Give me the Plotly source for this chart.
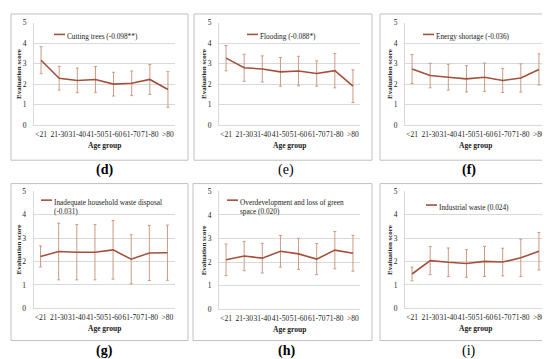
import plotly.graph_objects as go

W, H = 550, 359

age_groups = ["<21", "21-30", "31-40", "41-50", "51-60", "61-70", "71-80", ">80"]

names = [
    "Cutting trees (-0.098**)",
    "Flooding (-0.088*)",
    "Energy shortage (-0.036)",
    "Inadequate household waste disposal<br>(-0.031)",
    "Overdevelopment and loss of green<br>space (0.020)",
    "Industrial waste (0.024)",
]
panel_labels = ["(d)", "(e)", "(f)", "(g)", "(h)", "(i)"]

mean_d = [3.17, 2.29, 2.18, 2.23, 2.00, 2.04, 2.23, 1.74]
sd_d = [0.66, 0.58, 0.60, 0.63, 0.58, 0.60, 0.73, 0.87]
mean_e = [3.27, 2.80, 2.74, 2.60, 2.64, 2.52, 2.66, 1.90]
sd_e = [0.62, 0.66, 0.64, 0.70, 0.72, 0.62, 0.84, 0.80]
mean_f = [2.74, 2.42, 2.34, 2.26, 2.34, 2.18, 2.30, 2.72]
sd_f = [0.71, 0.60, 0.63, 0.64, 0.69, 0.59, 0.69, 0.76]
mean_g = [2.22, 2.43, 2.40, 2.40, 2.50, 2.10, 2.37, 2.38]
sd_g = [0.45, 1.21, 1.18, 1.18, 1.25, 1.05, 1.18, 1.18]
mean_h = [2.10, 2.26, 2.17, 2.46, 2.35, 2.13, 2.51, 2.38]
sd_h = [0.67, 0.62, 0.63, 0.67, 0.66, 0.66, 0.79, 0.76]
mean_i = [1.47, 2.04, 1.97, 1.92, 2.01, 1.98, 2.16, 2.44]
sd_i = [0.29, 0.60, 0.61, 0.59, 0.64, 0.59, 0.80, 0.80]

means = [mean_d, mean_e, mean_f, mean_g, mean_h, mean_i]
sds = [sd_d, sd_e, sd_f, sd_g, sd_h, sd_i]

# layout geometry in pixels (left, right, top, bottom) of plot areas
plots = [
    (26, 167, 11, 116),
    (211, 352, 11, 116),
    (397, 538, 11, 116),
    (25.5, 166.5, 184, 304),
    (211, 352, 184, 305),
    (397, 538, 184, 304),
]
boxes = [
    (3, 180, 2, 152),
    (186, 364, 2, 152),
    (372, 547, 2, 152),
    (3, 180, 176, 337),
    (185, 364, 176, 337),
    (372, 547, 176, 337),
]
label_pos = [(96, 162), (278, 162), (461, 162), (96, 348), (278, 348), (461, 348)]
legend_pos = [(46, 23), (239, 23), (415, 23), (33, 193), (219, 193), (418, 198)]

LINE = "#A4503A"
ERR = "#CC9A82"
GRID = "#D9D9D9"
SERIF = "Liberation Serif, Times New Roman, serif"

def px(x):
    return x / W

def py(y):
    return 1 - y / H

fig = go.Figure()
shapes = []
annotations = []

for k in range(6):
    xa = "x" if k == 0 else f"x{k+1}"
    ya = "y" if k == 0 else f"y{k+1}"
    l, r, t, b = plots[k]
    fig.add_trace(go.Scatter(
        x=age_groups, y=means[k], mode="lines",
        line=dict(color=LINE, width=1.6),
        error_y=dict(type="data", array=sds[k], visible=True,
                     color=ERR, thickness=1, width=1.5),
        xaxis=xa, yaxis=ya, showlegend=False, name=names[k].replace("<br>", " "),
    ))
    xkey = "xaxis" if k == 0 else f"xaxis{k+1}"
    ykey = "yaxis" if k == 0 else f"yaxis{k+1}"
    fig.layout[xkey] = dict(
        domain=[px(l), px(r)], anchor=ya, type="category",
        categoryorder="array", categoryarray=age_groups,
        showgrid=False, showline=True, linecolor=GRID, linewidth=1,
        ticks="", tickangle=0, ticklabelstandoff=2,
        tickfont=dict(family=SERIF, size=7.5, color="#222"),
        fixedrange=True,
    )
    fig.layout[ykey] = dict(
        domain=[py(b), py(t)], anchor=xa, range=[0, 5], dtick=1,
        showgrid=True, gridcolor=GRID, gridwidth=1, zeroline=False,
        showline=True, linecolor=GRID, linewidth=1,
        ticks="", ticklabelstandoff=5,
        tickfont=dict(family=SERIF, size=7.5, color="#222"),
        fixedrange=True,
    )
    # outer box
    bl, br, bt, bb = boxes[k]
    shapes.append(dict(type="rect", xref="paper", yref="paper",
                       x0=px(bl), x1=px(br), y0=py(bb), y1=py(bt),
                       line=dict(color="#C0C0C0", width=1)))
    # axis titles
    annotations.append(dict(xref="paper", yref="paper",
                            x=px(l - 15), y=py((t + b) / 2),
                            text="<b>Evaluation score</b>", textangle=-90,
                            showarrow=False,
                            font=dict(family=SERIF, size=7, color="#222"),
                            xanchor="center", yanchor="middle"))
    annotations.append(dict(xref="paper", yref="paper",
                            x=px((l + r) / 2), y=py(b + 21),
                            text="<b>Age group</b>", showarrow=False,
                            font=dict(family=SERIF, size=7.5, color="#222"),
                            xanchor="center", yanchor="middle"))
    # panel label
    lx, ly = label_pos[k]
    bold = k not in (1, 5)
    annotations.append(dict(xref="paper", yref="paper", x=px(lx), y=py(ly),
                            text=(f"<b>{panel_labels[k]}</b>" if bold else panel_labels[k]),
                            showarrow=False,
                            font=dict(family=SERIF, size=14, color="#000"),
                            xanchor="center", yanchor="middle"))
    # legend sample
    gx, gy = legend_pos[k]
    shapes.append(dict(type="line", xref="paper", yref="paper",
                       x0=px(gx), x1=px(gx + 11), y0=py(gy), y1=py(gy),
                       line=dict(color=LINE, width=1.6)))
    annotations.append(dict(xref="paper", yref="paper", x=px(gx + 11),
                            y=py(gy - 4.5), text=names[k], showarrow=False,
                            align="left",
                            font=dict(family=SERIF, size=7.3, color="#222"),
                            xanchor="left", yanchor="top"))

fig.update_layout(
    width=W, height=H, margin=dict(l=0, r=0, t=0, b=0),
    paper_bgcolor="white", plot_bgcolor="white",
    shapes=shapes, annotations=annotations, showlegend=False,
)

fig.write_html("out.html")
